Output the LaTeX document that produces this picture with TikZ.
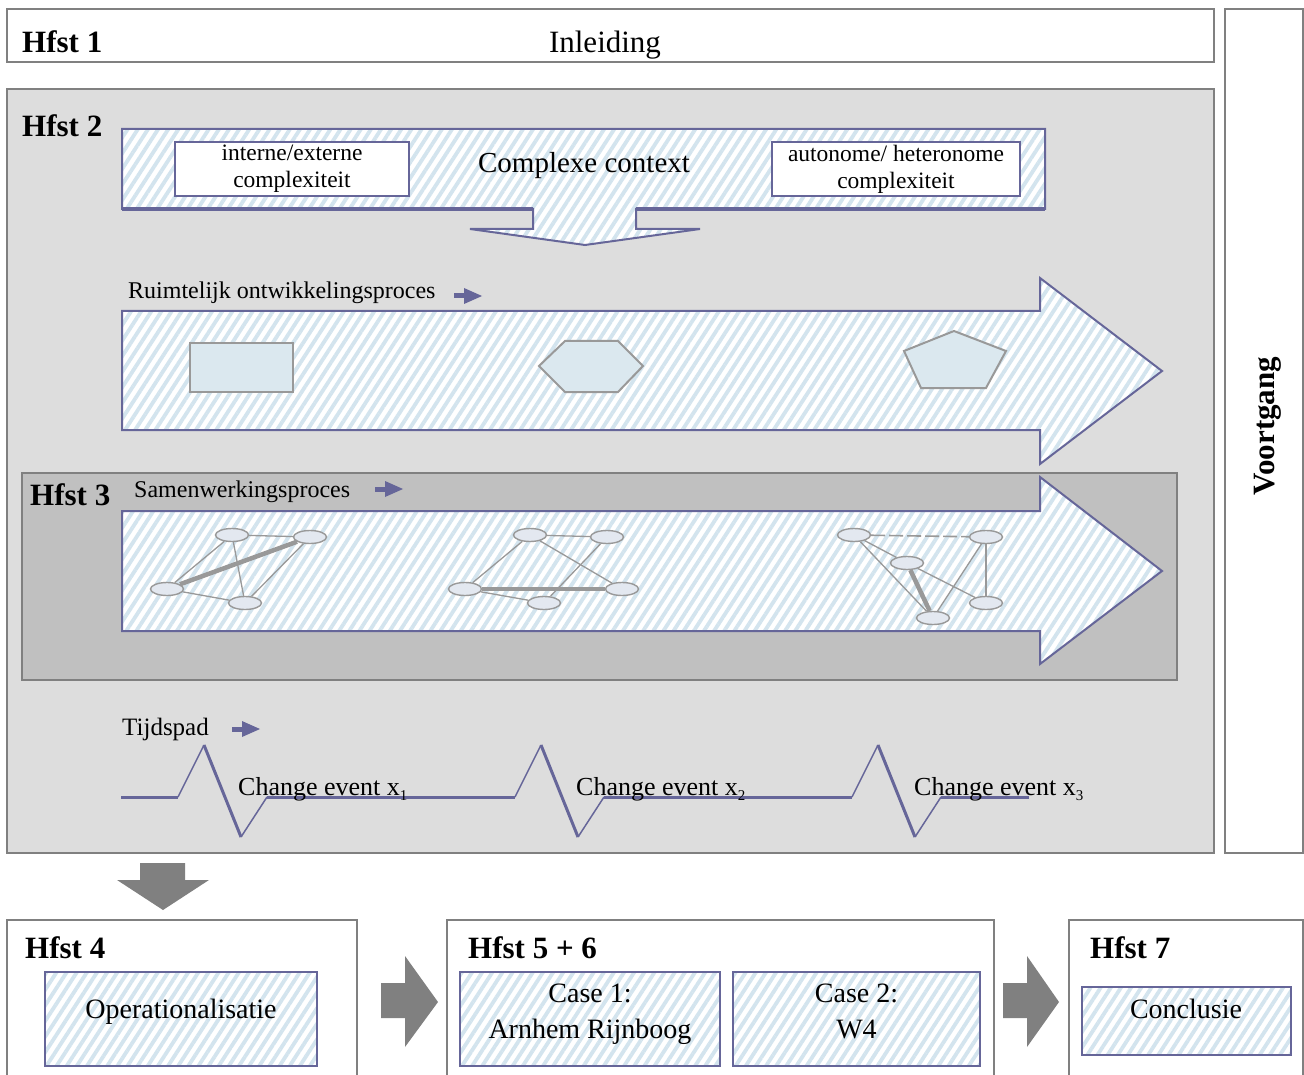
\documentclass[tikz,border=0pt]{standalone}
\usepackage{fontspec}
\setmainfont{Liberation Serif}
\usetikzlibrary{patterns.meta,shapes.geometric}
\definecolor{purp}{HTML}{666699}
\definecolor{boxgray}{HTML}{808080}
\definecolor{bgtwo}{HTML}{DDDDDD}
\definecolor{bgthree}{HTML}{C0C0C0}
\definecolor{hatchc}{HTML}{D3E4EE}
\definecolor{shapefill}{HTML}{DBE8EF}
\definecolor{gline}{HTML}{999999}
\definecolor{gfill}{HTML}{E3E8F0}
\definecolor{arrowgray}{HTML}{808080}
\newcommand\fsz[2]{\fontsize{#1}{#2}\selectfont}
\begin{document}
\begin{tikzpicture}[x=1pt,y=-1pt,line join=miter,
  gbox/.style={draw=boxgray,line width=2.5pt},
  hatched/.style={preaction={fill=white},pattern={Lines[angle=57,distance=8.5pt,line width=3.8pt]},pattern color=hatchc},
  pbord/.style={draw=purp,line width=2pt},
  lbl/.style={inner sep=0pt,anchor=base west},
  hfst/.style={lbl,font=\bfseries\fsz{31}{36}},
  medlbl/.style={lbl,font=\fsz{24}{28}},
  inbox/.style={draw=purp,line width=2pt,inner sep=0pt},
  gnode/.style={ellipse,draw=gline,fill=gfill,line width=1.4pt,minimum width=33pt,minimum height=13pt,inner sep=0pt},
  thinedge/.style={draw=gline,line width=1.3pt},
  thickedge/.style={draw=gline,line width=4.5pt},
  shp/.style={fill=shapefill,draw=gline,line width=2pt},
  iconarrow/.pic={\fill[purp] (0,-2.5) rectangle (11,2.5); \fill[purp] (10,-8) -- (28,0) -- (10,8) -- cycle;}
]
\useasboundingbox[fill=white] (0,0) rectangle (1304,1075);

% ---------- Hfst 1
\draw[gbox,fill=white] (7,9) rectangle (1214,62);
\node[hfst] (h1) at (22,53) {Hfst 1};
\node[anchor=base,inner sep=0pt,font=\fsz{31}{36}] (inl) at (605,53) {Inleiding};

% ---------- Voortgang
\draw[gbox,fill=white] (1225,9) rectangle (1303,853);
\node[rotate=90,inner sep=0pt,font=\bfseries\fsz{31}{36}] (vg) at (1268,426) {Voortgang};

% ---------- Hfst 2
\draw[gbox,fill=bgtwo] (7,89) rectangle (1214,853);
\node[hfst] (h2) at (22,137) {Hfst 2};

% Complexe context arrow
\draw[pbord,hatched] (122,129) -- (1045,129) -- (1045,209) -- (636,209) -- (636,229) -- (700,229)
  -- (585,245) -- (470,229) -- (533,229) -- (533,209) -- (122,209) -- cycle;
\draw[purp,line width=3.5pt] (122,209) -- (533,209);
\draw[purp,line width=3.5pt] (636,209) -- (1045,209);
\node[inbox,fill=white,minimum width=234pt,minimum height=54pt,align=center,font=\fsz{23.5}{27}] (ie) at (292,169) {interne/externe\\complexiteit};
\node[inbox,fill=white,minimum width=248pt,minimum height=54pt,align=center,font=\fsz{23.5}{27}] (ah) at (896,169) {autonome/ heteronome\\complexiteit};
\node[inner sep=0pt,font=\fsz{29}{34}] (cc) at (584,166) {Complexe context};

% Ruimtelijk ontwikkelingsproces arrow
\node[medlbl] (ro) at (128,299) {Ruimtelijk ontwikkelingsproces};
\pic at (454,296) {iconarrow};
\draw[pbord,hatched] (122,311) -- (1040,311) -- (1040,278) -- (1162,371) -- (1040,464) -- (1040,430) -- (122,430) -- cycle;
\draw[shp] (190,343) rectangle (293,392);
\draw[shp] (539,366) -- (565,341) -- (618,341) -- (643,366) -- (618,392) -- (565,392) -- cycle;
\draw[shp] (954,331) -- (1006,351) -- (986,388) -- (921,388) -- (904,351) -- cycle;

% ---------- Hfst 3
\draw[draw=boxgray,line width=2pt,fill=bgthree] (22,473) rectangle (1177,680);
\node[hfst] (h3) at (30,505) {Hfst 3};
\node[medlbl] (sw) at (134,497) {Samenwerkingsproces};
\pic at (375,489) {iconarrow};
\draw[pbord,hatched] (122,511) -- (1040,511) -- (1040,477) -- (1162,571) -- (1040,664) -- (1040,631) -- (122,631) -- cycle;

% network 1
\node[gnode] (na) at (232,535) {};
\node[gnode] (nb) at (310,537) {};
\node[gnode] (nc) at (167,589) {};
\node[gnode] (nd) at (245,603) {};
\draw[thinedge] (na) -- (nb);
\draw[thinedge] (na) -- (nc);
\draw[thinedge] (na) -- (nd);
\draw[thinedge] (nb) -- (nd);
\draw[thinedge] (nc) -- (nd);
\draw[thickedge] (nb) -- (nc);

% network 2
\node[gnode] (ma) at (530,535) {};
\node[gnode] (mb) at (607,537) {};
\node[gnode] (mc) at (465,589) {};
\node[gnode] (md) at (622,589) {};
\node[gnode] (me) at (544,603) {};
\draw[thinedge] (ma) -- (mb);
\draw[thinedge] (ma) -- (mc);
\draw[thinedge] (ma) -- (md);
\draw[thinedge] (mb) -- (me);
\draw[thinedge] (mc) -- (me);
\draw[thickedge] (mc) -- (md);

% network 3
\node[gnode] (ka) at (854,535) {};
\node[gnode] (kb) at (986,537) {};
\node[gnode] (kc) at (907,563) {};
\node[gnode] (kd) at (986,603) {};
\node[gnode] (ke) at (933,618) {};
\draw[thinedge,line width=1.6pt,dash pattern=on 14pt off 4pt] (ka) -- (kb);
\draw[thinedge] (ka) -- (kc);
\draw[thinedge] (ka) -- (ke);
\draw[thinedge] (kb) -- (kd);
\draw[thinedge] (kb) -- (ke);
\draw[thinedge] (kc) -- (kd);
\draw[thickedge] (kc) -- (ke);

% ---------- Tijdspad
\node[lbl,font=\fsz{25}{30}] (tp) at (122,735) {Tijdspad};
\pic at (232,729) {iconarrow};
\foreach \s in {0,337,674}{
  \draw[purp,line width=1.5pt] (178+\s,797) -- (204+\s,745);
  \draw[purp,line width=3pt] (204+\s,745) -- (241+\s,837);
  \draw[purp,line width=1.5pt] (241+\s,837) -- (267+\s,797);
}
\draw[purp,line width=3pt] (121,797) -- (178,797);
\draw[purp,line width=3pt] (267,797) -- (515,797);
\draw[purp,line width=3pt] (604,797) -- (852,797);
\draw[purp,line width=3pt] (941,797) -- (1029,797);
\node[lbl,font=\fsz{26}{30}] (ce1) at (238,795) {Change event x\raisebox{-5pt}{\fsz{15}{15}1}};
\node[lbl,font=\fsz{26}{30}] (ce2) at (576,795) {Change event x\raisebox{-5pt}{\fsz{15}{15}2}};
\node[lbl,font=\fsz{26}{30}] (ce3) at (914,795) {Change event x\raisebox{-5pt}{\fsz{15}{15}3}};

% ---------- big gray arrows
\fill[arrowgray] (140,863) -- (185,863) -- (185,880) -- (209,880) -- (163,910) -- (117,880) -- (140,880) -- cycle;
\fill[arrowgray] (381,983) -- (405,983) -- (405,956) -- (438,1002) -- (405,1047) -- (405,1018) -- (381,1018) -- cycle;
\fill[arrowgray] (1003,983) -- (1027,983) -- (1027,956) -- (1059,1002) -- (1027,1047) -- (1027,1018) -- (1003,1018) -- cycle;

% ---------- Hfst 4
\fill[white] (7,920) rectangle (357,1080);
\draw[gbox] (7,1080) -- (7,920) -- (357,920) -- (357,1080);
\node[hfst] (h4) at (25,958) {Hfst 4};
\node[inbox,hatched,minimum width=272pt,minimum height=94pt] (op) at (181,1019) {};
\node[inner sep=0pt,font=\fsz{28}{33}] (opt) at (181,1012) {Operationalisatie\strut};

% ---------- Hfst 5 + 6
\fill[white] (447,920) rectangle (994,1080);
\draw[gbox] (447,1080) -- (447,920) -- (994,920) -- (994,1080);
\node[hfst] (h56) at (468,958) {Hfst 5 + 6};
\node[inbox,hatched,minimum width=260pt,minimum height=94pt] (c1) at (590,1019) {};
\node[inner sep=0pt,align=center,font=\fsz{28}{36}] (c1t) at (590,1013) {Case 1:\strut\\Arnhem Rijnboog\strut};
\node[inbox,hatched,minimum width=247pt,minimum height=94pt] (c2) at (856.5,1019) {};
\node[inner sep=0pt,align=center,font=\fsz{28}{36}] (c2t) at (856.5,1013) {Case 2:\strut\\W4\strut};

% ---------- Hfst 7
\fill[white] (1069,920) rectangle (1303,1080);
\draw[gbox] (1069,1080) -- (1069,920) -- (1303,920) -- (1303,1080);
\node[hfst] (h7) at (1090,958) {Hfst 7};
\node[inbox,hatched,minimum width=209pt,minimum height=68pt] (cl) at (1186.5,1021) {};
\node[inner sep=0pt,font=\fsz{28}{33}] (clt) at (1186,1012) {Conclusie\strut};
\end{tikzpicture}
\end{document}
